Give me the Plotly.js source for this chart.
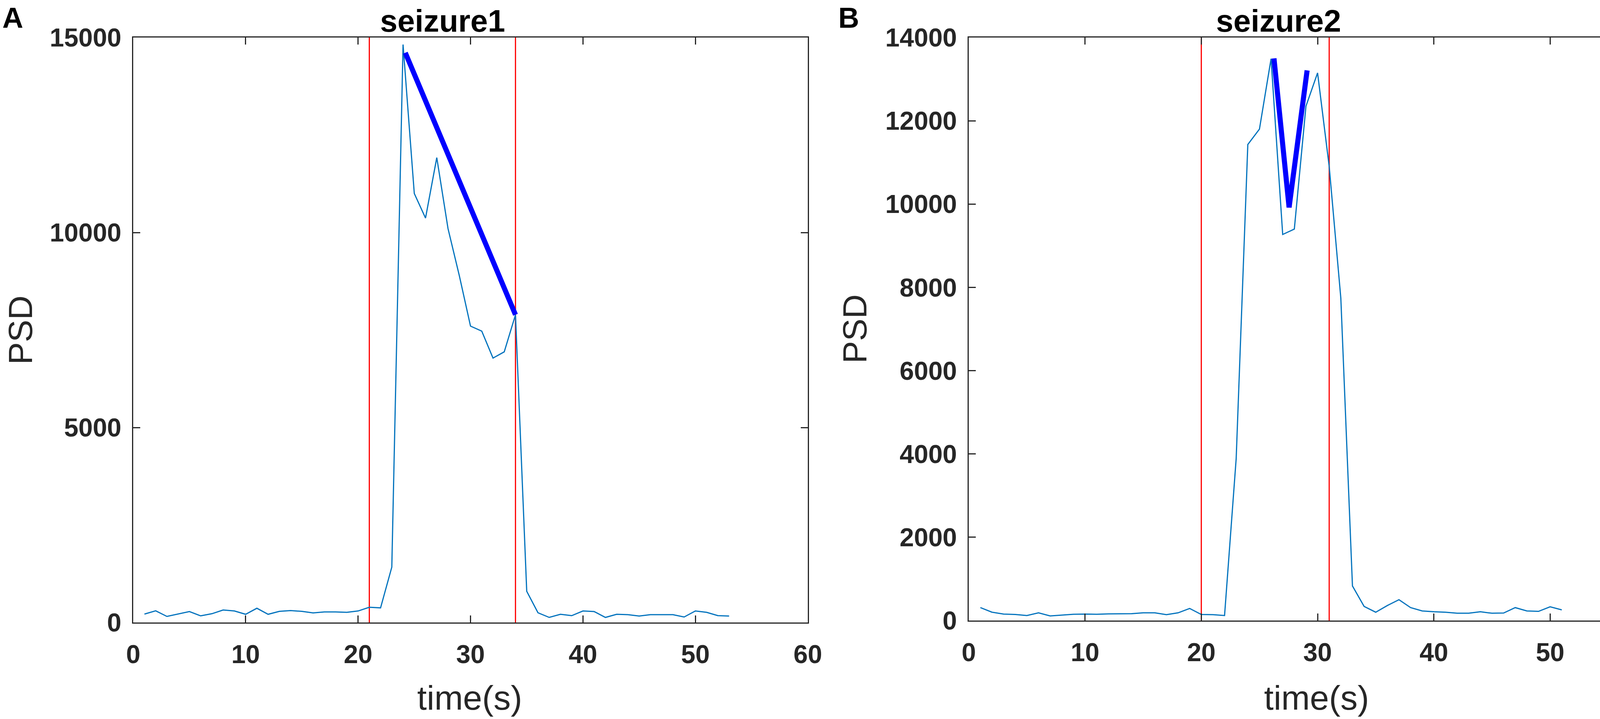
<!DOCTYPE html>
<html>
<head>
<meta charset="utf-8">
<script src="https://cdn.plot.ly/plotly-3.0.1.min.js"></script>
<style>
  html, body { margin: 0; padding: 0; background: #fff; overflow: hidden; }
  #myDiv { width: 4317px; height: 1840px; }
</style>
</head>
<body>
<div id="myDiv"></div>
<script>
// seizure 1: PSD per second
var timeA = [1, 2, 3, 4, 5, 6, 7, 8, 9, 10, 11, 12, 13, 14, 15, 16, 17, 18, 19, 20,
             21, 22, 23, 24, 25, 26, 27, 28, 29, 30, 31, 32, 33, 34, 35, 36, 37, 38, 39, 40,
             41, 42, 43, 44, 45, 46, 47, 48, 49, 50, 51, 52, 53];
var psdA = [215, 300, 155, 215, 280, 170, 225, 320, 295, 210, 365, 210, 285, 305, 285, 245, 270, 270, 260, 295,
            390, 375, 1420, 14820, 11000, 10370, 11920, 10100, 8900, 7600, 7470, 6780, 6940, 7890, 800, 250, 130, 210, 175, 295,
            280, 130, 210, 200, 165, 200, 200, 200, 140, 295, 260, 175, 165];
var onsetA = [21, 34];          // red markers (seizure start / end)
var fitA_x = [24.2, 34];        // thick blue segment
var fitA_y = [14610, 7890];

// seizure 2
var timeB = [1, 2, 3, 4, 5, 6, 7, 8, 9, 10, 11, 12, 13, 14, 15, 16, 17, 18, 19, 20,
             21, 22, 23, 24, 25, 26, 27, 28, 29, 30, 31, 32, 33, 34, 35, 36, 37, 38, 39, 40,
             41, 42, 43, 44, 45, 46, 47, 48, 49, 50, 51];
var psdB = [310, 200, 155, 145, 120, 185, 110, 130, 150, 155, 150, 160, 165, 165, 185, 185, 140, 185, 290, 145,
            140, 120, 3890, 11430, 11800, 13490, 9270, 9400, 12350, 13150, 10900, 7740, 830, 340, 200, 360, 500, 310, 230, 210,
            200, 175, 175, 210, 175, 180, 310, 230, 220, 330, 255];
var onsetB = [20, 31];
var fitB_x = [26.25, 27.55, 29.1];
var fitB_y = [13500, 9920, 13210];

var FONT = '"Liberation Sans", Arial, Helvetica, sans-serif';
var INK = '#262626';

function vline(x, ymax, xa, ya) {
    return {x: [x, x], y: [0, ymax], xaxis: xa, yaxis: ya, mode: 'lines',
            line: {color: '#ff0000', width: 3}, hoverinfo: 'skip'};
}

var data = [
    vline(onsetA[0], 15000, 'x', 'y'),
    vline(onsetA[1], 15000, 'x', 'y'),
    {x: timeA, y: psdA, xaxis: 'x', yaxis: 'y', mode: 'lines', line: {color: '#0072BD', width: 3}},
    {x: fitA_x, y: fitA_y, xaxis: 'x', yaxis: 'y', mode: 'lines', line: {color: '#0000FF', width: 13}},

    vline(onsetB[0], 14000, 'x2', 'y2'),
    vline(onsetB[1], 14000, 'x2', 'y2'),
    {x: timeB, y: psdB, xaxis: 'x2', yaxis: 'y2', mode: 'lines', line: {color: '#0072BD', width: 3}},
    {x: fitB_x, y: fitB_y, xaxis: 'x2', yaxis: 'y2', mode: 'lines', line: {color: '#0000FF', width: 13}}
];

function axis(extra) {
    var a = {
        showline: true, mirror: 'ticks', linecolor: INK, linewidth: 3,
        ticks: 'inside', ticklen: 18, tickwidth: 3, tickcolor: INK,
        showgrid: false, zeroline: false, tickformat: 'd',
        ticklabeloverflow: 'allow',
        tickfont: {family: FONT, size: 66, color: INK, weight: 'bold'}
    };
    for (var k in extra) a[k] = extra[k];
    return a;
}

var W = 4317, H = 1840;
function px(v) { return v / W; }
function py(v) { return 1 - v / H; }

var layout = {
    width: W, height: H,
    margin: {l: 0, r: 0, t: 0, b: 0},
    paper_bgcolor: '#fff', plot_bgcolor: '#fff',
    showlegend: false,
    xaxis: axis({domain: [px(341), px(2068)], range: [0, 60], dtick: 10, anchor: 'y', ticklabelstandoff: 22}),
    yaxis: axis({domain: [py(1593), py(96)], range: [0, 15000], dtick: 5000, anchor: 'x', ticklabelstandoff: 14}),
    xaxis2: axis({domain: [px(2480), px(4266)], range: [0, 60], dtick: 10, anchor: 'y2', ticklabelstandoff: 22}),
    yaxis2: axis({domain: [py(1588), py(96)], range: [0, 14000], dtick: 2000, anchor: 'x2', ticklabelstandoff: 14}),
    annotations: [
        {text: '<b>A</b>', x: px(4), y: py(2), xanchor: 'left', yanchor: 'top', font: {family: FONT, size: 74, color: '#000'}},
        {text: '<b>B</b>', x: px(2144), y: py(2), xanchor: 'left', yanchor: 'top', font: {family: FONT, size: 74, color: '#000'}},
        {text: '<b>seizure1</b>', x: px(1133), y: py(54), xanchor: 'center', yanchor: 'middle', font: {family: FONT, size: 80, color: '#000'}},
        {text: '<b>seizure2</b>', x: px(3273), y: py(54), xanchor: 'center', yanchor: 'middle', font: {family: FONT, size: 80, color: '#000'}},
        {text: 'time(s)', x: px(1202), y: py(1785), xanchor: 'center', yanchor: 'middle', font: {family: FONT, size: 88, color: INK}},
        {text: 'time(s)', x: px(3370), y: py(1785), xanchor: 'center', yanchor: 'middle', font: {family: FONT, size: 88, color: INK}},
        {text: 'PSD', x: px(2), y: py(845), xanchor: 'left', yanchor: 'middle', textangle: -90, font: {family: FONT, size: 86, color: INK}},
        {text: 'PSD', x: px(2188), y: py(842), xanchor: 'center', yanchor: 'middle', textangle: -90, font: {family: FONT, size: 86, color: INK}}
    ].map(function (a) { a.xref = 'paper'; a.yref = 'paper'; a.showarrow = false; return a; })
};

Plotly.newPlot('myDiv', data, layout, {staticPlot: true});
</script>
</body>
</html>
